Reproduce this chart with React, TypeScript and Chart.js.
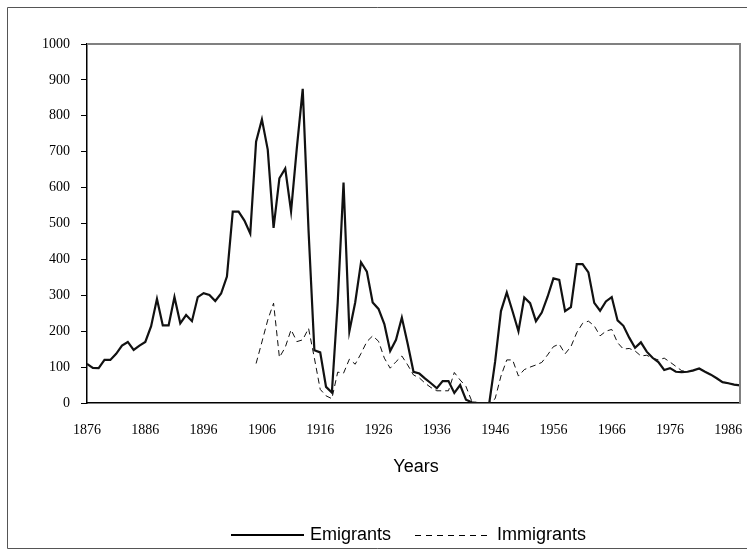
import { useEffect, useRef } from 'react';
import { Chart, registerables } from 'chart.js';

Chart.register(...registerables);

const years: string[] = [
  '1876','1877','1878','1879','1880','1881','1882','1883','1884','1885',
  '1886','1887','1888','1889','1890','1891','1892','1893','1894','1895',
  '1896','1897','1898','1899','1900','1901','1902','1903','1904','1905',
  '1906','1907','1908','1909','1910','1911','1912','1913','1914','1915',
  '1916','1917','1918','1919','1920','1921','1922','1923','1924','1925',
  '1926','1927','1928','1929','1930','1931','1932','1933','1934','1935',
  '1936','1937','1938','1939','1940','1941','1942','1943','1944','1945',
  '1946','1947','1948','1949','1950','1951','1952','1953','1954','1955',
  '1956','1957','1958','1959','1960','1961','1962','1963','1964','1965',
  '1966','1967','1968','1969','1970','1971','1972','1973','1974','1975',
  '1976','1977','1978','1979','1980','1981','1982','1983','1984','1985',
  '1986','1987','1988',
];

const xTickLabels: string[] = ['1876','1886','1896','1906','1916','1926','1936','1946','1956','1966','1976','1986'];
const yTickValues: number[] = [0, 100, 200, 300, 400, 500, 600, 700, 800, 900, 1000];

const emigrants: number[] = [
  109, 98, 97, 120, 120, 137, 160, 170, 148, 160,
  170, 214, 290, 216, 216, 295, 222, 245, 228, 295,
  306, 301, 284, 305, 352, 533, 533, 508, 472, 728,
  790, 706, 488, 626, 653, 534, 712, 875, 480, 147,
  141, 45, 29, 280, 614, 200, 280, 392, 366, 280,
  262, 220, 145, 176, 238, 165, 87, 82, 68, 55,
  41, 61, 61, 28, 50, 9, 2, 0, 0, 0,
  115, 256, 308, 255, 200, 294, 278, 228, 252, 296,
  347, 343, 256, 267, 387, 387, 364, 279, 257, 283,
  295, 230, 215, 182, 154, 169, 143, 126, 114, 92,
  97, 87, 86, 87, 91, 96, 87, 79, 69, 58,
  55, 51, 49,
];

const immigrants: (number | null)[] = [
  null, null, null, null, null, null, null, null, null, null,
  null, null, null, null, null, null, null, null, null, null,
  null, null, null, null, null, null, null, null, null, 110,
  170, 231, 278, 127, 155, 204, 171, 176, 208, 125,
  38, 20, 12, 86, 83, 122, 108, 138, 171, 187,
  172, 125, 97, 115, 131, 106, 78, 70, 55, 43,
  34, 34, 34, 85, 64, 46, 5, 0, 0, 0,
  12, 75, 120, 120, 75, 93, 100, 106, 113, 134,
  157, 164, 137, 157, 196, 222, 228, 215, 187, 200,
  205, 168, 150, 152, 145, 131, 133, 125, 120, 125,
  114, 102, 90, 87, 90, 95, 88, 79, 69, 58,
  55, 51, 49,
];

const seriesNames: string[] = ['Emigrants', 'Immigrants'];
const xTitle = 'Years';

const SANS = '"Liberation Sans", Arial, sans-serif';
const SERIF = '"Liberation Serif", "Times New Roman", serif';

const decorPlugin = {
  id: 'decor',
  afterDraw(chart: any) {
    const ctx = chart.ctx as CanvasRenderingContext2D;
    const a = chart.chartArea;
    ctx.save();
    // outer frame
    ctx.strokeStyle = '#555';
    ctx.lineWidth = 1;
    ctx.beginPath();
    ctx.moveTo(760, 7.5);
    ctx.lineTo(7.5, 7.5);
    ctx.lineTo(7.5, 548.5);
    ctx.lineTo(760, 548.5);
    ctx.stroke();
    // plot area top/right border
    ctx.strokeStyle = '#808080';
    ctx.lineWidth = 2;
    ctx.beginPath();
    ctx.moveTo(a.left, a.top);
    ctx.lineTo(a.right, a.top);
    ctx.lineTo(a.right, a.bottom);
    ctx.stroke();
    // axis title
    ctx.fillStyle = '#000';
    ctx.font = `18px ${SANS}`;
    ctx.textAlign = 'center';
    ctx.textBaseline = 'middle';
    ctx.fillText(xTitle, 416, 467);
    // legend
    const ly = 535;
    ctx.strokeStyle = '#000';
    ctx.lineWidth = 2;
    ctx.setLineDash([]);
    ctx.beginPath();
    ctx.moveTo(231, ly);
    ctx.lineTo(304, ly);
    ctx.stroke();
    ctx.textAlign = 'left';
    ctx.fillText(seriesNames[0], 310, ly);
    ctx.lineWidth = 1;
    ctx.setLineDash([6, 5]);
    ctx.beginPath();
    ctx.moveTo(415, ly + 0.5);
    ctx.lineTo(490, ly + 0.5);
    ctx.stroke();
    ctx.setLineDash([]);
    ctx.fillText(seriesNames[1], 497, ly);
    ctx.restore();
  },
};

export default function App() {
  const ref = useRef<HTMLCanvasElement | null>(null);

  useEffect(() => {
    document.body.style.margin = '0';
    const canvas = ref.current;
    if (!canvas) return;
    const chart = new Chart(canvas, {
      type: 'line',
      data: {
        labels: years,
        datasets: [
          {
            label: seriesNames[0],
            data: emigrants,
            borderColor: '#111',
            borderWidth: 2.2,
            pointRadius: 0,
            tension: 0,
            fill: false,
          },
          {
            label: seriesNames[1],
            data: immigrants,
            borderColor: '#111',
            borderWidth: 1,
            borderDash: [6, 4],
            pointRadius: 0,
            tension: 0,
            fill: false,
            spanGaps: false,
          },
        ],
      },
      options: {
        animation: false,
        responsive: false,
        maintainAspectRatio: false,
        devicePixelRatio: 1,
        layout: { padding: { top: 44, right: 7, bottom: 0, left: 0 } },
        plugins: {
          legend: { display: false },
          tooltip: { enabled: false },
          title: { display: false },
        },
        scales: {
          x: {
            type: 'category',
            offset: false,
            grid: { display: true, drawOnChartArea: false, drawTicks: false },
            border: { display: true, color: '#000', width: 1.5 },
            ticks: {
              autoSkip: false,
              maxRotation: 0,
              minRotation: 0,
              padding: 19,
              color: '#000',
              font: { family: SERIF, size: 14 },
              callback: (_v: any, i: number) => (xTickLabels.includes(years[i]) ? years[i] : ''),
            },
            afterFit: (s: any) => {
              s.height = 153;
              s.paddingLeft = 0;
              s.paddingRight = 0;
            },
          },
          y: {
            type: 'linear',
            min: 0,
            max: 1000,
            afterBuildTicks: (s: any) => {
              s.ticks = yTickValues.map((v) => ({ value: v }));
            },
            grid: { display: true, drawOnChartArea: false, drawTicks: true, tickLength: 6, color: '#000' },
            border: { display: true, color: '#000', width: 1.5 },
            ticks: {
              padding: 11,
              color: '#000',
              font: { family: SERIF, size: 14 },
              callback: (v: any) => String(v),
            },
            afterFit: (s: any) => {
              s.width = 87;
              s.paddingTop = 0;
              s.paddingBottom = 0;
            },
          },
        },
      },
      plugins: [decorPlugin],
    });
    return () => chart.destroy();
  }, []);

  return <canvas ref={ref} width={747} height={556} style={{ display: 'block', width: 747, height: 556 }} />;
}
